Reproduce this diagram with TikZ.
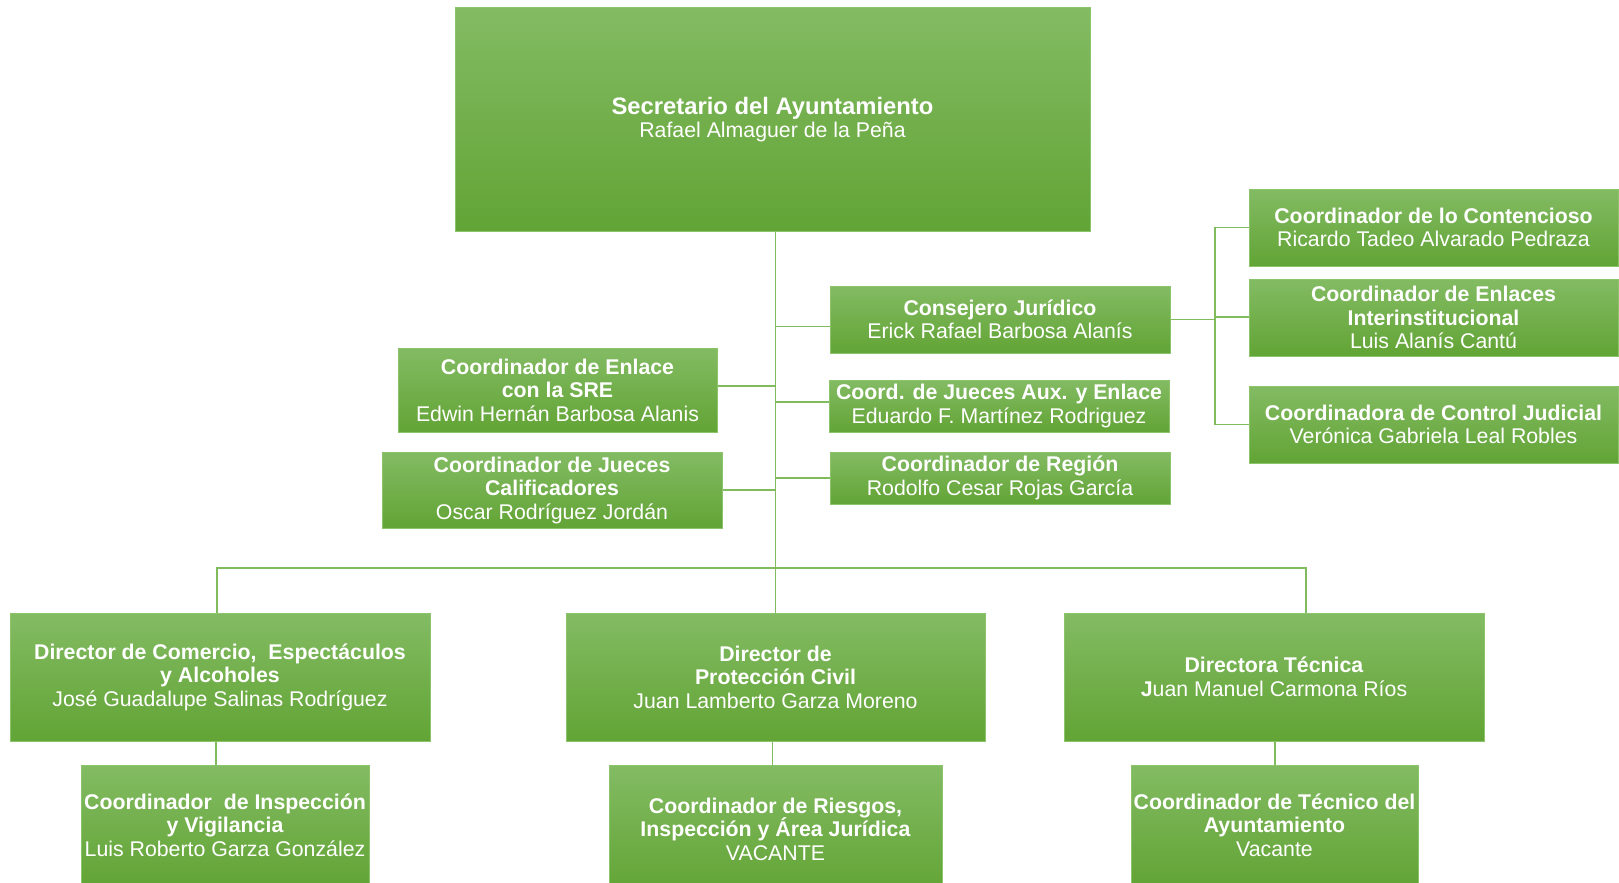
\documentclass[tikz,border=0pt]{standalone}
\usepackage{fontspec}
\setmainfont{Liberation Sans}
\usepackage{xcolor}
\usepackage{tikz}
\usetikzlibrary{positioning}

\definecolor{verdeclaro}{RGB}{131,187,99}
\definecolor{verdeoscuro}{RGB}{98,164,53}
\definecolor{verdeborde}{RGB}{140,196,108}
\definecolor{verdelinea}{RGB}{128,188,94}

\begin{document}
\begin{tikzpicture}[x=1pt,y=-1pt,
    caja/.style={draw=verdeborde, line width=1pt, top color=verdeclaro, bottom color=verdeoscuro,
      text=white, align=center, inner sep=0pt, font=\fontsize{21.3}{23.5}\selectfont},
    linea/.style={draw=verdelinea, line width=1.3pt}]
    \useasboundingbox (0,0) rectangle (1619,883);

    % Secretario
    \node[caja, minimum width=635pt, minimum height=223pt] (sec) at (772.5,119.5)
      {{\fontsize{23.8}{24}\selectfont\bfseries Secretario del Ayuntamiento}\\Rafael Almaguer de la Peña};

    % Columna derecha del tronco
    \node[caja, minimum width=340pt, minimum height=67pt] (cons) at (1000,319.5)
      {\textbf{Consejero Jurídico}\\Erick Rafael Barbosa Alanís};
    \node[caja, minimum width=340pt, minimum height=52pt] (aux) at (999,406)
      {\textbf{Coord. de Jueces Aux. y Enlace}\\Eduardo F. Martínez Rodriguez};
    \node[caja, minimum width=340pt, minimum height=52pt] (reg) at (1000,478)
      {\textbf{Coordinador de Región}\\Rodolfo Cesar Rojas García};

    % Columna izquierda del tronco
    \node[caja, minimum width=319pt, minimum height=84pt] (sre) at (557.5,390)
      {\textbf{Coordinador de Enlace}\\\textbf{con la SRE}\\Edwin Hernán Barbosa Alanis};
    \node[caja, minimum width=340pt, minimum height=76pt] (calif) at (552,490)
      {\textbf{Coordinador de Jueces}\\\textbf{Calificadores}\\Oscar Rodríguez Jordán};

    % Dependientes del Consejero
    \node[caja, minimum width=369pt, minimum height=77pt] (cont) at (1433.5,227.5)
      {\textbf{Coordinador de lo Contencioso}\\Ricardo Tadeo Alvarado Pedraza};
    \node[caja, minimum width=369pt, minimum height=77pt] (enl) at (1433.5,317.5)
      {\textbf{Coordinador de Enlaces}\\\textbf{Interinstitucional}\\Luis Alanís Cantú};
    \node[caja, minimum width=369pt, minimum height=77pt] (ctrl) at (1433.5,424.5)
      {\textbf{Coordinadora de Control Judicial}\\Verónica Gabriela Leal Robles};

    % Direcciones
    \node[caja, minimum width=420pt, minimum height=128pt] (com) at (220,677)
      {\textbf{Director de Comercio,~ Espectáculos}\\\textbf{y Alcoholes}\\José Guadalupe Salinas Rodríguez};
    \node[caja, minimum width=419pt, minimum height=128pt] (prot) at (775.5,677)
      {\textbf{Director de}\\\textbf{Protección Civil}\\Juan Lamberto Garza Moreno};
    \node[caja, minimum width=420pt, minimum height=128pt] (tec) at (1274,677)
      {\textbf{Directora Técnica}\\\textbf{J}uan Manuel Carmona Ríos};

    % Coordinaciones de cada direccion
    \node[caja, minimum width=288pt, minimum height=120pt] (insp) at (225,825)
      {\textbf{Coordinador~ de Inspección}\\\textbf{y Vigilancia}\\Luis Roberto Garza González};
    \node[caja, minimum width=333pt, minimum height=128pt] (ries) at (775.5,829)
      {\textbf{Coordinador de Riesgos,}\\\textbf{Inspección y Área Jurídica}\\VACANTE};
    \node[caja, minimum width=287pt, minimum height=120pt] (tecc) at (1274.5,825)
      {\textbf{Coordinador de Técnico del}\\\textbf{Ayuntamiento}\\Vacante};

    % Conexiones
    \draw[linea] (sec.south -| prot.north) -- (prot.north);
    \draw[linea] ([yshift=-7pt]cons.west) -- ([yshift=-7pt]cons.west -| prot.north);
    \draw[linea] ([yshift=4pt]aux.west) -- ([yshift=4pt]aux.west -| prot.north);
    \draw[linea] (reg.west) -- (reg.west -| prot.north);
    \draw[linea] ([yshift=4pt]sre.east) -- ([yshift=4pt]sre.east -| prot.north);
    \draw[linea] (calif.east) -- (calif.east -| prot.north);

    \coordinate (bus) at (776,568);
    \draw[linea] ([xshift=-3pt]com.north) |- (bus) -| ([xshift=32pt]tec.north);

    \draw[linea] ([xshift=-4pt]com.south) -- ([xshift=-4pt]com.south |- insp.north);
    \draw[linea] ([xshift=-3pt]prot.south) -- ([xshift=-3pt]prot.south |- ries.north);
    \draw[linea] ([xshift=1pt]tec.south) -- ([xshift=1pt]tec.south |- tecc.north);

    \coordinate (llave) at (1215,317);
    \draw[linea] (cons.east) -- (cons.east -| llave);
    \draw[linea] (cont.west) -| (llave) |- (ctrl.west);
    \draw[linea] (llave) -- (llave -| enl.west);
\end{tikzpicture}
\end{document}
